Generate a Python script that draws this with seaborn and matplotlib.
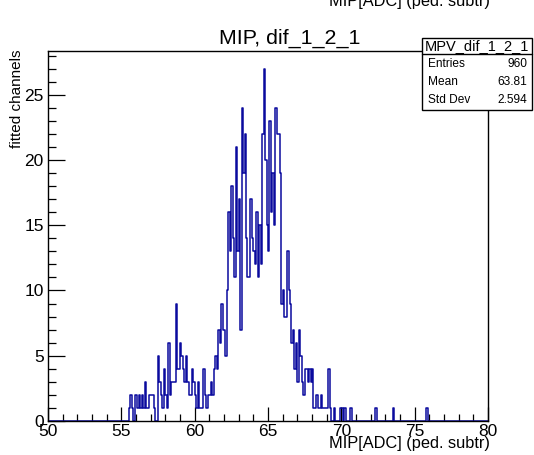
import numpy as np
import pandas as pd
import matplotlib
matplotlib.use("Agg")
import matplotlib.pyplot as plt
import seaborn as sns
from matplotlib.ticker import MultipleLocator
from matplotlib.patches import Rectangle
from matplotlib.lines import Line2D

# Histogram layout: 300 bins of 0.1 ADC from 50 to 80
x_low = 50.0
x_high = 80.0
bin_width = 0.1

# Bin contents starting at the bin whose lower edge is 55.4 ADC
first_edge = 55.4
counts = [
    0, 1, 2, 1, 0,
    2, 2, 1, 2, 1, 2, 1, 3, 1, 1,
    2, 2, 2, 1, 0, 0, 5, 3, 2,
    1, 4, 2, 1, 6, 2, 3, 3, 3, 9,
    4, 4, 6, 5, 4, 3, 5, 3, 2, 2,
    4, 3, 2, 1, 3, 1, 1, 1, 4, 2,
    1, 2, 2, 3, 2, 4, 5, 4, 7, 6,
    9, 7, 7, 5, 10, 16, 13, 18, 14,
    11, 21, 13, 17, 7, 24, 19, 22, 14, 11,
    11, 17, 14, 13, 12, 16, 11, 15, 12, 22,
    27, 20, 15, 13, 23, 16, 19, 15, 24, 22,
    22, 19, 9, 10, 8, 8, 13, 10, 9, 6,
    7, 4, 6, 3, 7, 5, 3, 2, 4,
    4, 3, 4, 3, 4, 1, 1, 2, 1, 1,
    2, 1, 1, 1, 1, 4, 1, 0, 0, 1,
    0, 0, 0, 1, 1, 0, 1, 0, 0, 0, 1,
]
# Lone entries far in the upper tail (bin lower edges)
tail_edges = [72.3, 73.5, 75.8]
tail_counts = [1, 1, 1]

hist_name = "MPV_dif_1_2_1"
stat_labels = ["Entries", "Mean", "Std Dev"]
stat_values = ["960", "63.81", "2.594"]
title = "MIP, dif_1_2_1"
x_title = "MIP[ADC] (ped. subtr)"
y_title = "fitted channels"

# ---- assemble the binned table ----
n_bins = int(round((x_high - x_low) / bin_width))
content = np.zeros(n_bins)
i0 = int(round((first_edge - x_low) / bin_width))
content[i0:i0 + len(counts)] = counts
for e, c in zip(tail_edges, tail_counts):
    content[int(round((e - x_low) / bin_width))] += c
centers = x_low + bin_width * (np.arange(n_bins) + 0.5)
df = pd.DataFrame({"adc": centers, "n": content})

# ---- figure ----
sns.set_theme(style="white")
plt.rcParams["font.family"] = ["Liberation Sans", "DejaVu Sans"]
plt.rcParams["text.color"] = "black"

W, H = 534, 455
fig = plt.figure(figsize=(W / 100, H / 100), dpi=100)
fig.patch.set_facecolor("white")

L, R, T, B = 48, 488, 51, 421
ax = fig.add_axes([L / W, 1 - B / H, (R - L) / W, (B - T) / H])
ax.set_facecolor("white")

sns.histplot(data=df, x="adc", weights="n", binwidth=bin_width,
             binrange=(x_low, x_high), element="step", fill=False,
             color="#0a0a9e", linewidth=1.1, ax=ax)

ax.set_xlim(x_low, x_high)
ax.set_ylim(0, 28.35)
ax.xaxis.set_major_locator(MultipleLocator(5))
ax.xaxis.set_minor_locator(MultipleLocator(1))
ax.yaxis.set_major_locator(MultipleLocator(5))
ax.yaxis.set_minor_locator(MultipleLocator(1))
ax.tick_params(axis="both", which="both", direction="in", colors="black",
               bottom=True, left=True, top=False, right=False,
               labelsize=12.5, labelcolor="black")
ax.tick_params(axis="x", which="major", length=10, width=0.9, pad=2)
ax.tick_params(axis="x", which="minor", length=5, width=0.9)
ax.tick_params(axis="y", which="major", length=12, width=0.9, pad=3)
ax.tick_params(axis="y", which="minor", length=6, width=0.9)
for s in ax.spines.values():
    s.set_color("black")
    s.set_linewidth(1.0)

ax.set_xlabel("")
ax.set_ylabel("")
fig.text(490 / W, 1 - 448 / H, x_title, ha="right", va="baseline",
         fontsize=11.8)
fig.text(17 / W, 1 - 50 / H, y_title, ha="center", va="top", rotation=90,
         fontsize=11)
fig.text(290 / W, 1 - 44 / H, title, ha="center", va="baseline",
         fontsize=15.4)
# axis title of the neighbouring pad, cut off by the top edge
fig.text(490 / W, 1 - 6 / H, x_title, ha="right", va="baseline",
         fontsize=11.8)

# ---- statistics box ----
bx0, bx1, by0, by1, bsep = 422, 532, 38, 110, 54
fig.patches.append(Rectangle((bx0 / W, 1 - by1 / H), (bx1 - bx0) / W,
                             (by1 - by0) / H, transform=fig.transFigure,
                             facecolor="white", edgecolor="black",
                             linewidth=1.0, zorder=5))
fig.lines.append(Line2D([bx0 / W, bx1 / W], [1 - bsep / H, 1 - bsep / H],
                        transform=fig.transFigure, color="black",
                        linewidth=1.0, zorder=6))
fig.text((bx0 + bx1) / 2 / W, 1 - (by0 + bsep) / 2 / H, hist_name,
         ha="center", va="center", fontsize=10.5, zorder=7)
for k, (lab, val) in enumerate(zip(stat_labels, stat_values)):
    yc = 64 + 18 * k
    fig.text((bx0 + 6) / W, 1 - yc / H, lab, ha="left", va="center",
             fontsize=8.6, zorder=7)
    fig.text((bx1 - 5) / W, 1 - yc / H, val, ha="right", va="center",
             fontsize=8.6, zorder=7)

fig.savefig("out.png", dpi=100)
